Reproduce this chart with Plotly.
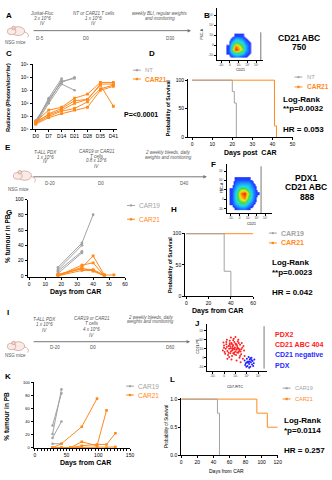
import plotly.graph_objects as go

W, H = 332, 480
FONT = "Liberation Sans"
GRAY = "#a3a3a3"
ORANGE = "#ff8a1c"
TXT = "#555555"

# ---------------- data ----------------
# C: BLI radiance per mouse (photons/s/cm2/sr)
c_days = ["D0", "D7", "D14", "D21", "D28", "D35", "D41"]
c_nt = [
    [4.0e4, 2.0e6, 4.0e7, 1.0e8],
    [3.0e4, 1.6e6, 5.0e7, 8.0e7],
    [2.5e4, 1.0e6, 3.0e7, 1.0e7],
    [5.0e4, 1.3e6, 6.0e7],
    [3.0e4, 2.5e6, 8.0e7],
]
c_car21 = [
    [4.0e4, 3.0e5, 5.0e5, 2.5e6, 5.0e6, 4.0e7, 4.0e7],
    [3.0e4, 1.6e5, 4.0e5, 1.6e6, 2.0e6, 3.0e7, 3.0e7],
    [4.0e4, 1.3e5, 3.0e5, 1.0e6, 2.0e6, 2.5e7, 6.0e5],
    [3.0e4, 1.0e5, 2.5e5, 4.0e5, 1.3e6, 1.3e7, 2.5e7],
    [2.5e4, 8.0e4, 1.6e5, 3.0e5, 5.0e5, 1.0e7, 2.0e7],
]

# D: survival after Jurkat challenge (%)
d_nt_t, d_nt_s = [0, 20, 21, 22], [100, 80, 60, 0]
d_car21_t, d_car21_s = [0, 41, 42], [100, 20, 0]

# G: % tumour in peripheral blood, PDX1
g_car19 = [
    ([18, 33, 40], [11, 43, 80]),
    ([18, 33], [8, 40]),
    ([18, 33], [6, 32]),
    ([18, 33], [3, 30]),
]
g_car21 = [
    ([18, 33, 40, 47], [1, 11, 26, 1]),
    ([18, 33, 40, 47], [0, 14, 17, 0]),
    ([18, 33, 40, 47, 53], [2, 9, 8, 1, 1]),
    ([18, 33, 40, 47], [0, 7, 7, 0]),
    ([18, 33, 40, 47], [0, 10, 6, 0]),
]

# H: survival PDX1 (%)
h_car19_t, h_car19_s = [0, 34, 40], [100, 40, 0]
h_car21_t, h_car21_s = [0, 60], [100, 100]

# K: % tumour in peripheral blood, PDX2
k_car19 = [
    ([28, 42], [21, 89]),
    ([28, 42], [34, 83]),
    ([28, 42], [15, 40]),
    ([28, 42], [6, 6]),
]
k_car21 = [
    ([28, 42, 74, 98], [0, 6, 32, 75]),
    ([28, 42, 56, 74, 98, 113], [0, 0, 0, 9, 3, 57]),
    ([28, 42, 56, 74, 98, 113, 127], [0, 0, 0, 3, 5, 5, 22]),
    ([28, 42, 56, 74, 98, 113, 127], [0, 0, 0, 0, 0, 0, 1]),
]

# L: survival PDX2 (fraction)
l_car19_t, l_car19_s = [0, 45, 47.5], [1.0, 0.75, 0.0]
l_car21_t, l_car21_s = [0, 94, 107, 120], [1.0, 0.75, 0.5, 0.5]

# B / F: binned event density (CD21 vs FSC-A)
b_x = [2.6, 3.4, 4.2, 5.0, 5.8, 6.6, 7.4, 8.2]
b_y = [0.8, 1.5, 2.2, 2.9, 3.6, 4.3, 5.0]
b_z = [
    [0, 1, 2, 2, 1, 1, 0, 0],
    [1, 3, 5, 5, 4, 2, 1, 0],
    [1, 5, 9, 8, 6, 3, 1, 0],
    [1, 4, 8, 7, 5, 3, 1, 0],
    [0, 3, 5, 5, 4, 2, 1, 0],
    [0, 1, 3, 3, 2, 1, 0, 0],
    [0, 0, 1, 1, 1, 0, 0, 0],
]
f_x = [1.2, 2.2, 3.2, 4.2, 5.2, 6.2, 7.2]
f_y = [1.2, 2.2, 3.2, 4.2, 5.2, 6.2, 7.2]
f_z = [
    [0, 1, 2, 2, 1, 0, 0],
    [1, 3, 5, 5, 3, 1, 0],
    [1, 4, 7, 8, 5, 2, 0],
    [1, 4, 8, 9, 6, 2, 1],
    [1, 3, 6, 6, 4, 2, 0],
    [0, 2, 3, 3, 3, 1, 0],
    [0, 1, 1, 1, 1, 0, 0],
]

# J: events, CD21+ PDX2 (red) vs CD21- PDX (blue)
j_red_x = [3.0, 3.4, 3.6, 3.8, 4.0, 4.1, 4.2, 4.3, 4.4, 4.5, 4.6, 4.7, 4.8, 4.9, 5.0, 5.1, 5.2,
           5.3, 5.4, 5.5, 5.6, 5.7, 5.8, 5.9, 6.0, 6.2, 6.3, 6.5, 3.2, 3.5, 3.9, 4.3, 4.6, 5.0,
           5.5, 6.1, 2.8, 3.3, 3.7, 4.0, 4.4, 4.8, 5.2, 5.6, 6.6, 2.9, 3.6, 5.9, 4.2, 5.3,
           3.1, 3.5, 3.9, 4.2, 4.5, 4.9, 5.1, 5.4, 5.7, 6.0, 4.0, 4.7, 5.0, 5.8, 3.4, 4.4,
           4.8, 5.3, 3.8, 4.6, 5.6, 6.4, 3.0, 4.1, 5.2, 4.5]
j_red_y = [5.2, 6.0, 4.5, 5.6, 6.8, 4.0, 5.1, 6.3, 3.4, 4.7, 5.8, 7.2, 4.2, 5.3, 6.1, 3.6, 4.8,
           5.6, 6.6, 4.1, 5.0, 3.0, 5.9, 4.4, 3.8, 5.2, 2.8, 4.6, 3.9, 7.0, 3.2, 2.6, 6.9, 7.6,
           7.0, 6.3, 4.6, 5.0, 3.6, 5.9, 4.6, 6.5, 2.4, 6.3, 3.4, 6.4, 2.8, 2.0, 7.5, 4.2,
           4.3, 5.4, 5.0, 4.4, 5.5, 4.9, 5.9, 5.2, 4.7, 4.9, 6.2, 5.0, 4.4, 3.4, 6.5, 6.0,
           3.8, 5.1, 4.1, 4.0, 4.4, 5.6, 5.7, 5.5, 6.0, 5.1]
j_blue_x = [6.6, 6.8, 7.0, 7.1, 7.2, 7.4, 7.5, 7.6, 7.7, 7.8, 7.9, 8.0, 8.2, 7.3, 6.9, 7.6,
            8.3, 7.0, 7.4, 8.1, 7.2, 7.8, 7.5, 6.7]
j_blue_y = [2.4, 1.8, 2.8, 1.2, 2.2, 1.6, 2.6, 1.0, 2.0, 3.0, 1.5, 2.3, 1.8, 3.2, 1.0, 2.9,
            2.6, 2.0, 0.8, 1.2, 1.9, 2.5, 2.1, 1.4]

flow_ticks = [1, 3, 5, 7, 9]
flow_ticktext = ["-10³", "0", "10³", "10⁴", "10⁵"]

# ---------------- helpers ----------------
fig = go.Figure()
ann, shapes = [], []


def xd(a, b):
    return [a / W, b / W]


def yd(top, bot):
    return [1 - bot / H, 1 - top / H]


def T(x, y, s, size=5, color="black", xa="center", ya="middle", angle=0):
    ann.append(dict(x=x / W, y=1 - y / H, xref="paper", yref="paper", text=s,
                    showarrow=False, font=dict(size=size, color=color, family=FONT),
                    xanchor=xa, yanchor=ya, textangle=angle))


def axstyle(**kw):
    d = dict(showline=True, linecolor="black", linewidth=1, ticks="outside", ticklen=2,
             tickwidth=0.8, tickcolor="black", showgrid=False, zeroline=False,
             tickfont=dict(size=5, family=FONT, color="black"))
    d.update(kw)
    return d


def legend_item(x, y, color, label, symbol, size=6.5, bold=False):
    shapes.append(dict(type="line", xref="paper", yref="paper", x0=x / W, x1=(x + 8) / W,
                       y0=1 - y / H, y1=1 - y / H, line=dict(color=color, width=1)))
    r = 1.2
    shapes.append(dict(type="circle" if symbol == "circle" else "rect", xref="paper", yref="paper",
                       x0=(x + 4 - r) / W, x1=(x + 4 + r) / W, y0=1 - (y + r) / H, y1=1 - (y - r) / H,
                       fillcolor=color, line=dict(width=0)))
    T(x + 10.5, y, f"<b>{label}</b>" if bold else label, size=size, color=color, xa="left")


def arrow(x0, x1, y):
    ann.append(dict(x=x1 / W, y=1 - y / H, ax=x0 - x1, ay=0, xref="paper", yref="paper",
                    axref="pixel", ayref="pixel", text="", showarrow=True, arrowhead=2,
                    arrowsize=0.7, arrowwidth=1, arrowcolor="#777777"))


def P(pts):
    return " ".join(f"{c}{x / W:.5f},{1 - y / H:.5f}" for c, x, y in pts)


def mouse(x0, y0, s=1.0):
    line = dict(color="#c9857a", width=0.6)
    fill = "#f7ebe7"
    # tail
    shapes.append(dict(type="path", xref="paper", yref="paper",
                       path=P([("M", x0 + 17 * s, y0 + 7 * s), ("Q", x0 + 24 * s, y0 + 9 * s),
                               ("", x0 + 21 * s, y0 + 13 * s)]),
                       line=line))
    shapes.append(dict(type="circle", xref="paper", yref="paper", x0=(x0 + 5 * s) / W,
                       x1=(x0 + 18 * s) / W, y0=1 - (y0 + 11 * s) / H, y1=1 - (y0 + 2 * s) / H,
                       fillcolor=fill, line=line))
    shapes.append(dict(type="circle", xref="paper", yref="paper", x0=(x0 + 0.5 * s) / W,
                       x1=(x0 + 9 * s) / W, y0=1 - (y0 + 10 * s) / H, y1=1 - (y0 + 3.5 * s) / H,
                       fillcolor=fill, line=line))
    shapes.append(dict(type="circle", xref="paper", yref="paper", x0=(x0 + 5 * s) / W,
                       x1=(x0 + 8.5 * s) / W, y0=1 - (y0 + 5 * s) / H, y1=1 - (y0 + 1.5 * s) / H,
                       fillcolor="#f3d6cf", line=line))


def series(xs, ys, color, symbol, ax, size=3.2, shape="linear"):
    fig.add_trace(go.Scatter(x=xs, y=ys, mode="lines+markers" if symbol else "lines",
                             line=dict(color=color, width=1, shape=shape),
                             marker=dict(color=color, size=size, symbol=symbol or "circle"),
                             xaxis=f"x{ax}", yaxis=f"y{ax}", showlegend=False, hoverinfo="skip"))


# ---------------- panel A (timeline) ----------------
T(8, 13, "<b>A</b>", 8)
mouse(6, 22, 1.0)
T(15, 40, "NSG mice", 4.5, TXT)
for yy, s in zip([11, 16, 21], ["Jurkat-Fluc", "3 x 10^6", "IV"]):
    T(42, yy, f"<i>{s}</i>", 4.5, TXT)
for yy, s in zip([11, 16, 21], ["NT or CAR21 T cells", "1 x 10^6", "IV"]):
    T(94, yy, f"<i>{s}</i>", 4.5, TXT)
for yy, s in zip([11, 16], ["weekly BLI, regular weights", "and monitoring"]):
    T(161, yy, f"<i>{s}</i>", 4.5, TXT)
arrow(34, 193, 28)
for xx, s in zip([40, 86, 172], ["D-5", "D0", "D30"]):
    T(xx, 36, s, 4.5, TXT)

# ---------------- panel B (flow) ----------------
T(209, 13, "<b>B</b>", 8)
flow_scale = [[0, "rgba(255,255,255,0)"], [0.07, "rgba(255,255,255,0)"], [0.075, "#1f2bff"],
              [0.3, "#1aa8ff"], [0.45, "#22e0e0"], [0.6, "#3cdc3c"], [0.75, "#f0f020"],
              [0.88, "#ff8c00"], [1, "#ff1010"]]
fig.add_trace(go.Heatmap(x=b_x, y=b_y, z=b_z, zsmooth="best", colorscale=flow_scale, zmin=0,
                         zmax=9, showscale=False, xaxis="x7", yaxis="y7", hoverinfo="skip"))
shapes.append(dict(type="line", xref="x7", yref="y7", x0=10, x1=10, y0=0, y1=5.6,
                   line=dict(color="#555", width=0.8)))
T(204, 31, "FSC-A", 3.5, angle=-90)
T(243, 68, "CD21", 3.5)
T(303, 35, "<b>CD21 ABC</b>", 8.5)
T(303, 45, "<b>750</b>", 8.5)

# ---------------- panel C (BLI) ----------------
T(8, 51, "<b>C</b>", 8)
for row in c_nt:
    series(list(range(len(row))), row, GRAY, "circle", 1, 2.6)
for row in c_car21:
    series(list(range(len(row))), row, ORANGE, "square", 1, 2.8)
T(7, 95, "<b>Radiance (Photon/s/cm²/sr)</b>", 5.3, angle=-90)
legend_item(134, 68, GRAY, "NT", "circle", 6)
legend_item(134, 77, ORANGE, "CAR21", "square", 6.5, True)
T(123, 113, "<b>P=<0.0001</b>", 7, xa="left")

# ---------------- panel D (survival) ----------------
T(153, 51, "<b>D</b>", 8)
series(d_car21_t, d_car21_s, ORANGE, None, 2, shape="hv")
series(d_nt_t, d_nt_s, GRAY, None, 2, shape="hv")
T(169, 106, "<b>Probability of Survival</b>", 5.3, angle=-90)
T(253, 152, "<b>Days post  CAR</b>", 7)
legend_item(298, 75, GRAY, "NT", "circle", 6)
legend_item(298, 85, ORANGE, "CAR21", "square", 6.5, True)
T(284, 98, "<b>Log-Rank</b>", 8, xa="left")
T(284, 107, "<b>**p=0.0032</b>", 8, xa="left")
T(284, 128, "<b>HR = 0.053</b>", 8, xa="left")

# ---------------- panel E (timeline) ----------------
T(7, 146, "<b>E</b>", 8)
mouse(12, 168, 1.05)
T(18, 189, "NSG mice", 4.5, TXT)
for yy, s in zip([151, 156, 161], ["T-ALL PDX", "1 x 10^6", "IV"]):
    T(45, yy, f"<i>{s}</i>", 4.5, TXT)
for yy, s in zip([150, 155, 160, 166], ["CAR19 or CAR21", "T cells", "0.8 x 10^6", "IV"]):
    T(97, yy, f"<i>{s}</i>", 4.5, TXT)
for yy, s in zip([151, 156], ["2 weekly bleeds, daily", "weights and monitoring"]):
    T(170, yy, f"<i>{s}</i>", 4.5, TXT)
arrow(34, 209, 176)
for xx, s in zip([50, 102, 186], ["D-20", "D0", "D40"]):
    T(xx, 183, s, 4.5, TXT)

# ---------------- panel F (flow) ----------------
T(216, 164, "<b>F</b>", 8)
fig.add_trace(go.Heatmap(x=f_x, y=f_y, z=f_z, zsmooth="best", colorscale=flow_scale, zmin=0,
                         zmax=9, showscale=False, xaxis="x8", yaxis="y8", hoverinfo="skip"))
shapes.append(dict(type="line", xref="x8", yref="y8", x0=8, x1=8, y0=0, y1=10,
                   line=dict(color="#555", width=0.8)))
T(224, 187, "FSC-A", 3.5, angle=-90)
T(254, 224, "CD21", 3.5)
T(310, 177, "<b>PDX1</b>", 8.5)
T(310, 186, "<b>CD21 ABC</b>", 8.5)
T(311, 196, "<b>888</b>", 8.5)

# ---------------- panel G ----------------
T(8, 212, "<b>G</b>", 8)
for xs, ys in g_car19:
    series(xs, ys, GRAY, "circle", 3, 2.8)
for xs, ys in g_car21:
    series(xs, ys, ORANGE, "square", 3, 2.8)
T(6, 238, "<b>% tumour in PB</b>", 6.5, angle=-90)
T(76, 293, "<b>Days from CAR</b>", 7)
legend_item(128, 205, GRAY, "CAR19", "circle", 6.5)
legend_item(128, 219, ORANGE, "CAR21", "square", 6.5)

# ---------------- panel H ----------------
T(176, 209, "<b>H</b>", 8)
series(h_car21_t, h_car21_s, ORANGE, None, 4, shape="hv")
series(h_car19_t, h_car19_s, GRAY, None, 4, shape="hv")
T(171, 265, "<b>Probability of Survival</b>", 5.3, angle=-90)
T(220, 312, "<b>Days from CAR</b>", 7)
legend_item(272, 233, GRAY, "CAR19", "circle", 7, True)
legend_item(272, 243, ORANGE, "CAR21", "square", 7, True)
T(273, 263, "<b>Log-Rank</b>", 8, xa="left")
T(273, 273, "<b>**p=0.0023</b>", 8, xa="left")
T(273, 293, "<b>HR = 0.042</b>", 8, xa="left")

# ---------------- panel I (timeline) ----------------
T(7, 313, "<b>I</b>", 8)
mouse(6, 341, 1.0)
T(15, 357, "NSG mice", 4.5, TXT)
for yy, s in zip([320, 326, 332], ["T-ALL PDX", "1 x 10^6", "IV"]):
    T(44, yy, f"<i>{s}</i>", 4.5, TXT)
for yy, s in zip([319, 325, 331, 337], ["CAR19 or CAR21", "T cells", "4 x 10^6", "IV"]):
    T(92, yy, f"<i>{s}</i>", 4.5, TXT)
for yy, s in zip([318, 323], ["2 weekly bleeds, daily", "weights and monitoring"]):
    T(152, yy, f"<i>{s}</i>", 4.5, TXT)
arrow(34, 192, 343)
for xx, s in zip([55, 93, 172], ["D-20", "D0", "D60"]):
    T(xx, 349, s, 4.5, TXT)

# ---------------- panel J (scatter) ----------------
T(199, 325, "<b>J</b>", 8)
fig.add_trace(go.Scatter(x=j_red_x, y=j_red_y, mode="markers",
                         marker=dict(color="#ff2020", size=2), xaxis="x9", yaxis="y9",
                         showlegend=False, hoverinfo="skip"))
fig.add_trace(go.Scatter(x=j_blue_x, y=j_blue_y, mode="markers",
                         marker=dict(color="#2020ff", size=2), xaxis="x9", yaxis="y9",
                         showlegend=False, hoverinfo="skip"))
shapes.append(dict(type="line", xref="x9", yref="y9", x0=10, x1=10, y0=0.6, y1=10,
                   line=dict(color="#555", width=0.8)))
T(200, 347, "CD21-PE", 3.5, angle=-90)
T(238, 389, "CD7-FITC", 3.5)
T(276, 336, "<b>PDX2</b>", 7, "#ff1a1a", xa="left")
T(276, 346, "<b>CD21 ABC 404</b>", 7, "#ff1a1a", xa="left")
T(276, 356, "<b>CD21 negative</b>", 7, "#2a2aff", xa="left")
T(276, 367, "<b>PDX</b>", 7, "#2a2aff", xa="left")

# ---------------- panel K ----------------
T(7, 378, "<b>K</b>", 8)
for xs, ys in k_car19:
    series(xs, ys, GRAY, "circle", 5, 2.6)
for xs, ys in k_car21:
    series(xs, ys, ORANGE, "square", 5, 2.6)
T(6, 418, "<b>% tumour in PB</b>", 6.5, angle=-90)
T(86, 466, "<b>Days from CAR</b>", 7)
legend_item(127, 388, GRAY, "CAR19", "circle", 6.5)
legend_item(127, 397, ORANGE, "CAR21", "square", 6.5)

# ---------------- panel L ----------------
T(174, 381, "<b>L</b>", 8)
series(l_car21_t, l_car21_s, ORANGE, None, 6, shape="hv")
series(l_car19_t, l_car19_s, GRAY, None, 6, shape="hv")
T(168, 429, "Probability of Survival", 4.5, angle=-90)
T(229, 474, "Days from CAR", 5)
legend_item(286, 390, GRAY, "CAR19", "circle", 5.5)
legend_item(286, 401, ORANGE, "CAR21", "square", 5.5)
T(285, 423, "<b>Log-Rank</b>", 8, xa="left")
T(285, 433, "<b>*p=0.0114</b>", 8, xa="left")
T(285, 453, "<b>HR = 0.257</b>", 8, xa="left")

# ---------------- axes ----------------
flow_ax = dict(tickvals=flow_ticks, ticktext=flow_ticktext, range=[0, 10.5], ticklen=1.5,
               tickfont=dict(size=3, family=FONT, color="#333"), linewidth=0.8)
fig.update_layout(
    xaxis=axstyle(domain=xd(32, 118), range=[-0.25, 6.3], tickvals=list(range(7)),
                  ticktext=c_days, anchor="y"),
    yaxis=axstyle(domain=yd(62, 128), type="log", range=[4, 9],
                  tickvals=[1e4, 1e5, 1e6, 1e7, 1e8, 1e9],
                  ticktext=["10⁴", "10⁵", "10⁶", "10⁷", "10⁸", "10⁹"], anchor="x"),
    xaxis2=axstyle(domain=xd(190, 296), range=[-2, 50], tickvals=[0, 10, 20, 30, 40, 50],
                   anchor="y2"),
    yaxis2=axstyle(domain=yd(77, 136), range=[0, 102], tickvals=[0, 50, 100], anchor="x2"),
    xaxis3=axstyle(domain=xd(27, 126), range=[-1, 60], tickvals=[0, 10, 20, 30, 40, 50, 60],
                   anchor="y3"),
    yaxis3=axstyle(domain=yd(199, 277), range=[-1, 100],
                   tickvals=[0, 20, 40, 60, 80, 100], anchor="x3"),
    xaxis4=axstyle(domain=xd(187, 256), range=[-1, 60], tickvals=[0, 20, 40, 60], anchor="y4"),
    yaxis4=axstyle(domain=yd(233, 297), range=[0, 101], tickvals=[0, 50, 100], anchor="x4"),
    xaxis5=axstyle(domain=xd(33, 131), range=[-2, 150], tickvals=[0, 50, 100, 150],
                   minor=dict(dtick=5, ticks="outside", ticklen=1.5, tickcolor="black"),
                   anchor="y5"),
    yaxis5=axstyle(domain=yd(384, 451), range=[-1, 100], tickvals=[0, 20, 40, 60, 80, 100],
                   anchor="x5", tickfont=dict(size=4, family=FONT, color="black")),
    xaxis6=axstyle(domain=xd(183, 281), range=[0, 120],
                   tickvals=[0, 20, 40, 60, 80, 100, 120], anchor="y6"),
    yaxis6=axstyle(domain=yd(400, 458), range=[0, 1.02], tickvals=[0, 0.5, 1.0],
                   tickformat=".1f", anchor="x6"),
    xaxis7=axstyle(domain=xd(219, 266), anchor="y7", **flow_ax),
    yaxis7=axstyle(domain=yd(5, 58), anchor="x7", **flow_ax),
    xaxis8=axstyle(domain=xd(229, 275), anchor="y8", **flow_ax),
    yaxis8=axstyle(domain=yd(163, 213), anchor="x8", **flow_ax),
    xaxis9=axstyle(domain=xd(209, 270), anchor="y9", **flow_ax),
    yaxis9=axstyle(domain=yd(325, 373), anchor="x9", **flow_ax),
)

fig.update_layout(width=W, height=H, margin=dict(l=0, r=0, t=0, b=0),
                  paper_bgcolor="white", plot_bgcolor="white", showlegend=False,
                  font=dict(family=FONT), annotations=ann, shapes=shapes)
fig.write_html("out.html", config=dict(displayModeBar=False))
